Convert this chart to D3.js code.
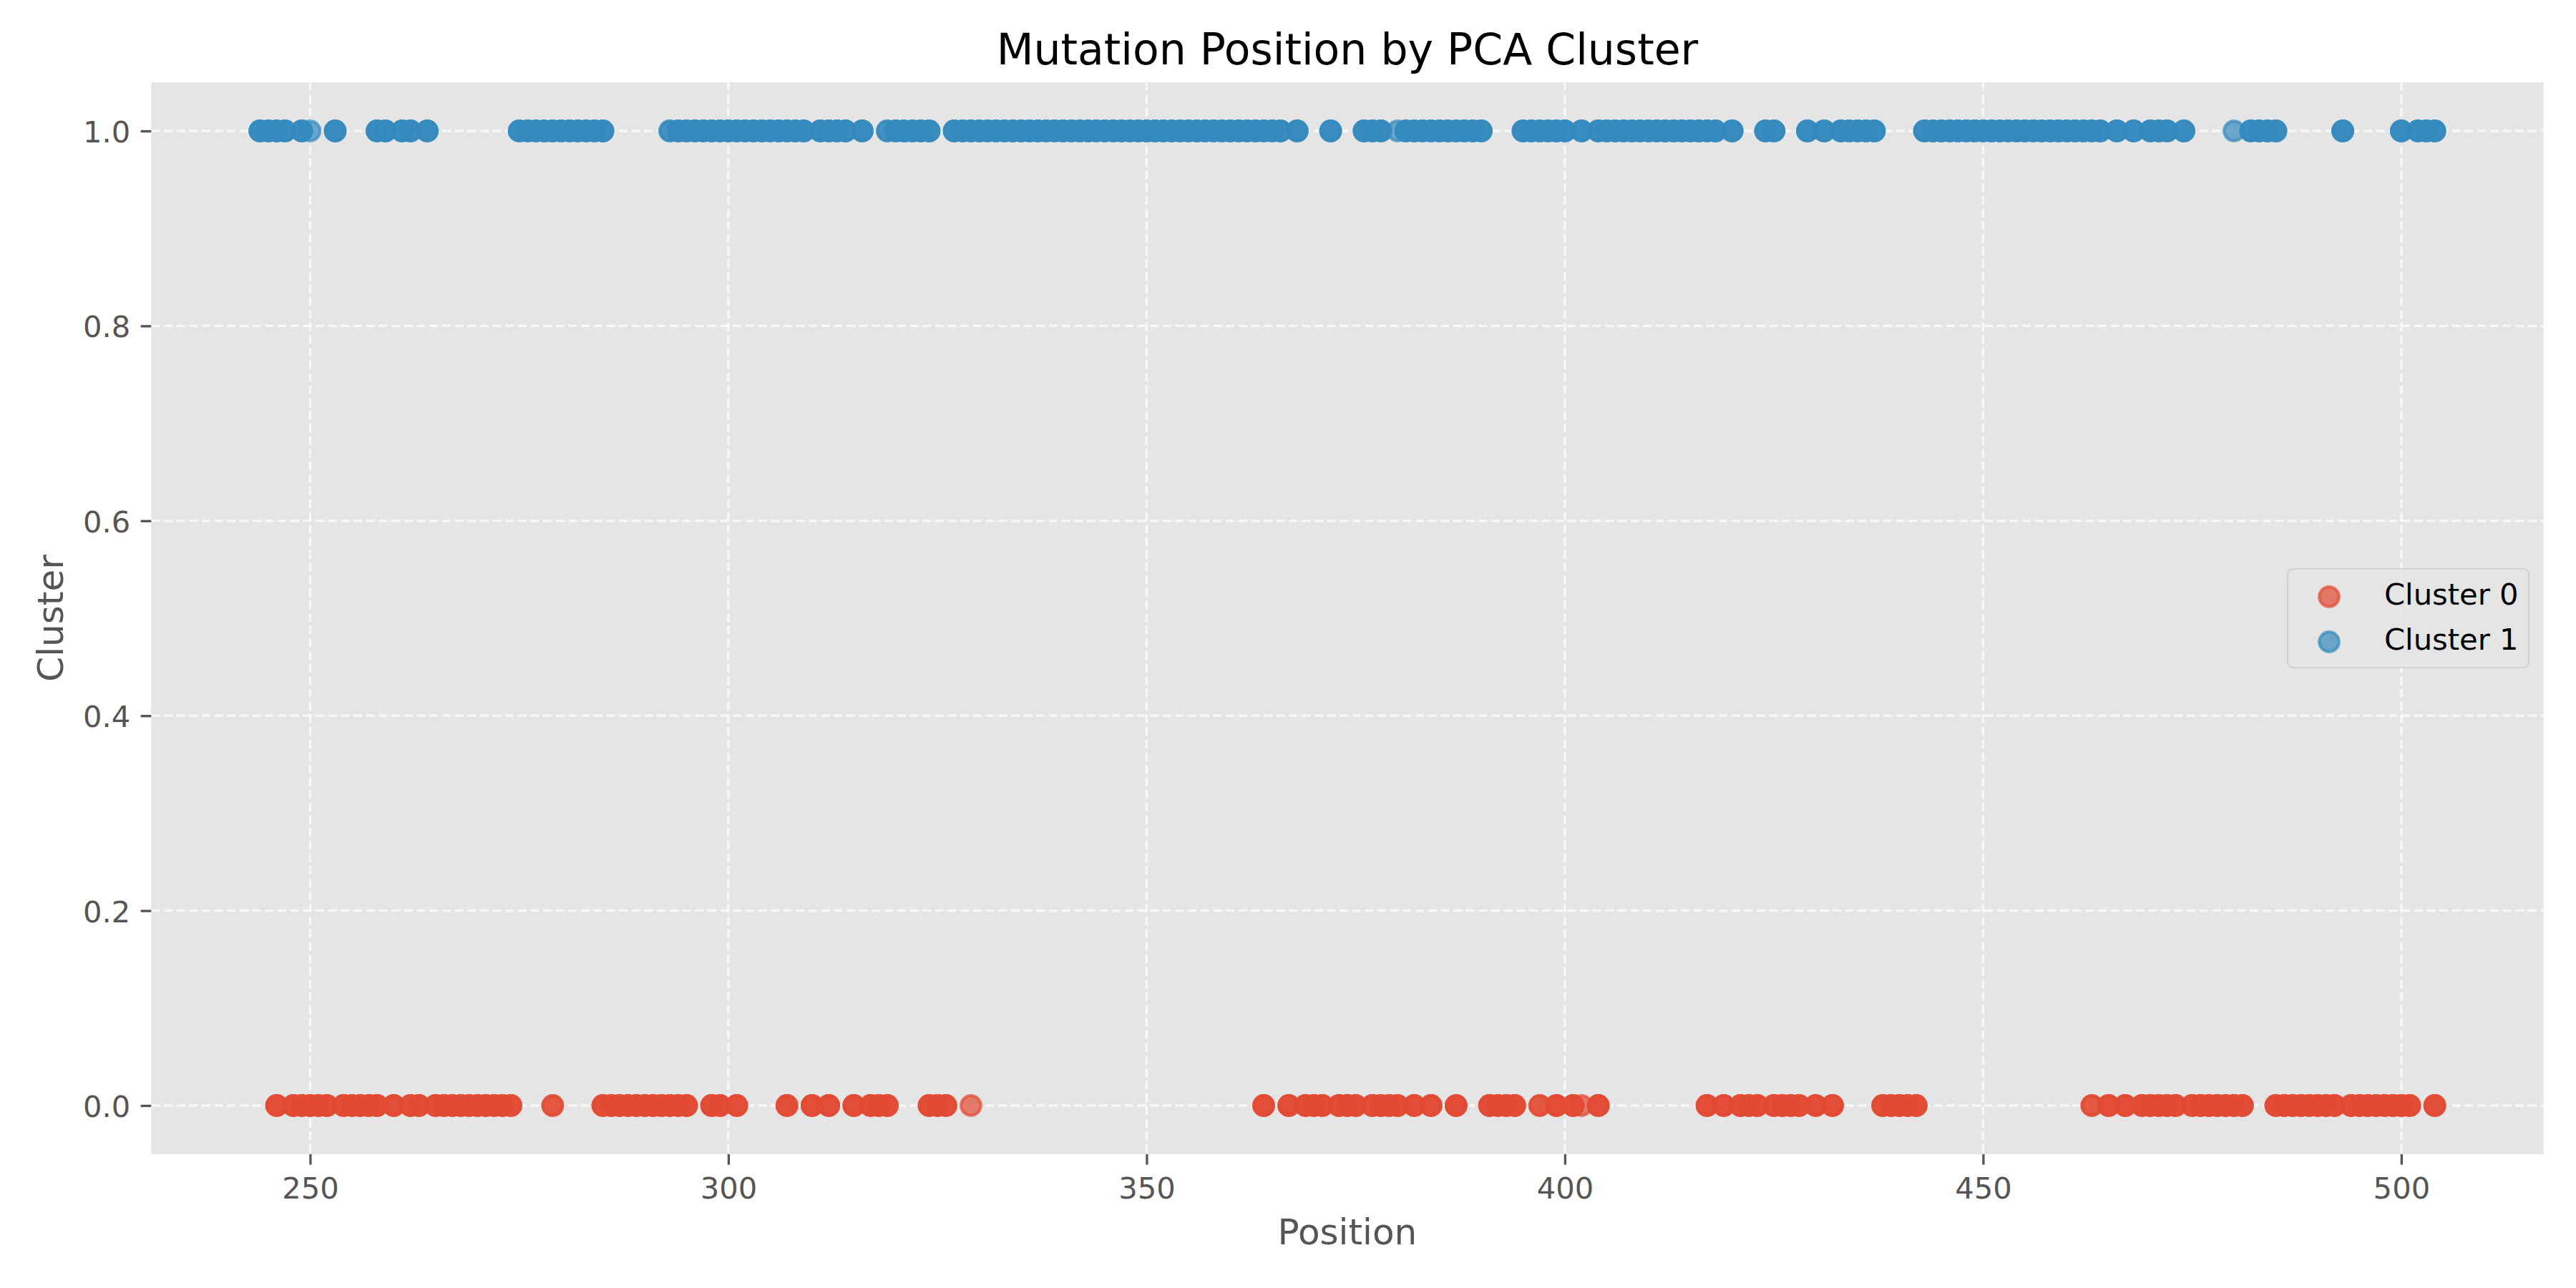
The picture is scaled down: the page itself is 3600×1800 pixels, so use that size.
<!DOCTYPE html>
<html>
<head>
<meta charset="utf-8">
<script src="https://cdn.jsdelivr.net/npm/d3@7"></script>
<style>
  html, body { margin: 0; padding: 0; background: #ffffff; }
  svg { display: block; font-family: "DejaVu Sans", sans-serif; }
</style>
</head>
<body>
<svg id="chart" width="3600" height="1800"></svg>
<script>
// ---------------- data ----------------
const chartTitle = "Mutation Position by PCA Cluster";
const xLabel = "Position";
const yLabel = "Cluster";
const seriesNames = ["Cluster 0", "Cluster 1"];
const seriesColors = ["#E24A33", "#348ABD"];
const clusterValues = [0, 1];
const xTickValues = [250, 300, 350, 400, 450, 500];
const yTickValues = [0.0, 0.2, 0.4, 0.6, 0.8, 1.0];

// mutation positions assigned to cluster 0
const cluster0Positions = [
  246, 248, 249, 250, 251, 252, 254, 255, 256, 257, 258, 260, 262, 263,
  265, 266, 267, 268, 269, 270, 271, 272, 273, 274, 279,
  285, 286, 287, 288, 289, 290, 291, 292, 293, 294, 295, 298, 299, 301,
  307, 310, 312, 315, 317, 318, 319, 324, 325, 326, 329,
  364, 367, 369, 370, 371, 373, 374, 375, 377, 378, 379, 380, 382, 384, 387,
  391, 392, 393, 394, 397, 399, 401, 402, 404,
  417, 419, 421, 422, 423, 425, 426, 427, 428, 430, 432,
  438, 439, 440, 441, 442,
  463, 465, 467, 469, 470, 471, 472, 473, 475, 476, 477, 478, 479, 480, 481,
  485, 486, 487, 488, 489, 490, 491, 492, 494, 495, 496, 497, 498, 499, 500, 501, 504
];

// mutation positions assigned to cluster 1
const cluster1Positions = [
  244, 245, 246, 247, 249, 250, 253, 258, 259, 261, 262, 264,
  275, 276, 277, 278, 279, 280, 281, 282, 283, 284, 285,
  293, 294, 295, 296, 297, 298, 299, 300, 301, 302, 303, 304, 305, 306, 307, 308, 309,
  311, 312, 313, 314, 316, 319, 320, 321, 322, 323, 324,
  327, 328, 329, 330, 331, 332, 333, 334, 335, 336, 337, 338, 339, 340, 341, 342, 343,
  344, 345, 346, 347, 348, 349, 350, 351, 352, 353, 354, 355, 356, 357, 358, 359, 360,
  361, 362, 363, 364, 365, 366, 368, 372,
  376, 377, 378, 380, 381, 382, 383, 384, 385, 386, 387, 388, 389, 390,
  395, 396, 397, 398, 399, 400, 402,
  404, 405, 406, 407, 408, 409, 410, 411, 412, 413, 414, 415, 416, 417, 418, 420,
  424, 425, 429, 431, 433, 434, 435, 436, 437,
  443, 444, 445, 446, 447, 448, 449, 450, 451, 452, 453, 454, 455, 456, 457, 458,
  459, 460, 461, 462, 463, 464, 466, 468, 470, 471, 472, 474,
  480, 482, 483, 484, 485, 493, 500, 502, 503, 504
];

// how many mutations are stacked at a position (estimated from dot opacity)
const defaultStack = 3;
const cluster0Stacks = [[279, 2], [329, 1], [397, 2], [402, 1], [463, 2]];
const cluster1Stacks = [[250, 1], [293, 2], [319, 2], [380, 1], [480, 1]];

// ---------------- layout ----------------
const W = 3600, H = 1800;
const plot = { left: 211.3, right: 3554.6, top: 114.9, bottom: 1613.1 };
const pt = 300 / 72;              // figure was rendered at 300 dpi
const fontTick = 10 * pt;         // 41.7 px
const fontLabel = 12 * pt;        // 50 px
const fontTitle = 14.4 * pt;      // 60 px
const markerR = 13.8;
const markerStroke = 1.0 * pt;
const alpha = 0.7;

const svg = d3.select("#chart");
svg.append("rect").attr("width", W).attr("height", H).attr("fill", "#ffffff");

const allPos = cluster0Positions.concat(cluster1Positions);
const [xmin, xmax] = d3.extent(allPos);
const xpad = (xmax - xmin) * 0.05;
const x = d3.scaleLinear().domain([xmin - xpad, xmax + xpad]).range([plot.left, plot.right]);
const y = d3.scaleLinear().domain([-0.05, 1.05]).range([plot.bottom, plot.top]);

// background
svg.append("rect")
  .attr("x", plot.left).attr("y", plot.top)
  .attr("width", plot.right - plot.left).attr("height", plot.bottom - plot.top)
  .attr("fill", "#E5E5E5");

// grid
const grid = svg.append("g").attr("stroke", "#ffffff").attr("stroke-opacity", 0.7)
  .attr("stroke-width", 0.8 * pt).attr("stroke-dasharray", `${3.7 * 0.8 * pt},${1.6 * 0.8 * pt}`);
grid.selectAll("line.gx").data(xTickValues).join("line").attr("class", "gx")
  .attr("x1", d => x(d)).attr("x2", d => x(d)).attr("y1", plot.top).attr("y2", plot.bottom);
grid.selectAll("line.gy").data(yTickValues).join("line").attr("class", "gy")
  .attr("y1", d => y(d)).attr("y2", d => y(d)).attr("x1", plot.left).attr("x2", plot.right);

// axes
const tickLen = 3.5 * pt;
const xAxis = d3.axisBottom(x).tickValues(xTickValues).tickFormat(d3.format("d"))
  .tickSizeInner(tickLen).tickSizeOuter(0).tickPadding(17.8);
const yAxis = d3.axisLeft(y).tickValues(yTickValues).tickFormat(d3.format(".1f"))
  .tickSizeInner(tickLen).tickSizeOuter(0).tickPadding(14.4);

function styleAxis(g) {
  g.select(".domain").remove();
  g.selectAll(".tick line").attr("stroke", "#555555").attr("stroke-width", 0.8 * pt);
  g.selectAll(".tick text").attr("fill", "#555555")
    .attr("font-family", "DejaVu Sans").attr("font-size", fontTick);
}
svg.append("g").attr("transform", `translate(0,${plot.bottom})`).call(xAxis).call(styleAxis);
const gy = svg.append("g").attr("transform", `translate(${plot.left},0)`).call(yAxis).call(styleAxis);
gy.selectAll(".tick text").attr("dy", "0.37em");

// points
function expand(positions, stacks, clusterValue, idx) {
  const m = new Map(stacks);
  const out = [];
  positions.forEach(p => {
    const n = m.has(p) ? m.get(p) : defaultStack;
    for (let k = 0; k < n; k++) out.push({ pos: p, cluster: clusterValue, s: idx });
  });
  return out;
}
const series = [
  expand(cluster0Positions, cluster0Stacks, clusterValues[0], 0),
  expand(cluster1Positions, cluster1Stacks, clusterValues[1], 1)
];
series.forEach((pts, i) => {
  svg.append("g").selectAll("circle").data(pts).join("circle")
    .attr("cx", d => x(d.pos)).attr("cy", d => y(d.cluster)).attr("r", markerR)
    .attr("fill", seriesColors[i]).attr("fill-opacity", alpha)
    .attr("stroke", seriesColors[i]).attr("stroke-opacity", alpha)
    .attr("stroke-width", markerStroke);
});

// title and labels
const cx = (plot.left + plot.right) / 2;
const cy = (plot.top + plot.bottom) / 2;
svg.append("text").attr("x", cx).attr("y", 90).attr("text-anchor", "middle")
  .attr("font-size", fontTitle).attr("fill", "#000000").text(chartTitle);
svg.append("text").attr("x", cx).attr("y", 1738.5).attr("text-anchor", "middle")
  .attr("font-size", fontLabel).attr("fill", "#555555").text(xLabel);
svg.append("text").attr("transform", `translate(88,${cy}) rotate(-90)`).attr("text-anchor", "middle")
  .attr("font-size", fontLabel).attr("fill", "#555555").text(yLabel);

// legend
const leg = svg.append("g");
leg.append("rect").attr("x", 3197).attr("y", 795).attr("width", 337).attr("height", 138)
  .attr("rx", 8).attr("ry", 8)
  .attr("fill", "#E5E5E5").attr("fill-opacity", 0.8)
  .attr("stroke", "#CCCCCC").attr("stroke-opacity", 0.8).attr("stroke-width", 0.5 * pt);
const legRowY = [834, 897];
seriesNames.forEach((name, i) => {
  leg.append("circle").attr("cx", 3255).attr("cy", legRowY[i]).attr("r", markerR)
    .attr("fill", seriesColors[i]).attr("fill-opacity", alpha)
    .attr("stroke", seriesColors[i]).attr("stroke-opacity", alpha).attr("stroke-width", markerStroke);
  leg.append("text").attr("x", 3332).attr("y", legRowY[i] + 11)
    .attr("font-size", fontTick).attr("fill", "#000000").text(name);
});
</script>
</body>
</html>
